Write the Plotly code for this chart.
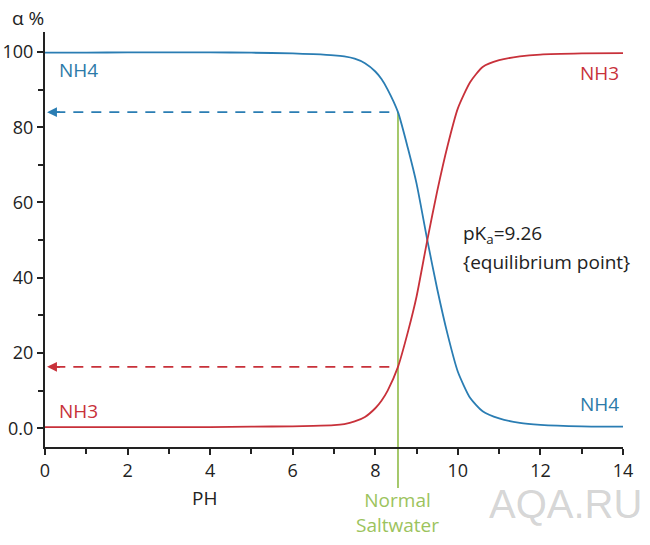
import plotly.graph_objects as go

ph = [0, 1, 2, 3, 4, 5, 6, 6.5, 7, 7.25, 7.5, 7.75, 8, 8.15, 8.3, 8.55, 8.8, 9.0, 9.26, 9.5, 9.75, 10.0, 10.3, 10.6, 11, 11.5, 12, 13, 14]
nh3 = [0.3, 0.3, 0.3, 0.3, 0.3, 0.4, 0.5, 0.6, 0.8, 1.1, 1.8, 3.0, 5.3, 7.3, 10.0, 16.3, 26, 35, 50, 63, 75, 85, 92, 96, 97.8, 98.8, 99.3, 99.6, 99.7]
nh4 = [99.8, 99.8, 99.9, 99.9, 99.9, 99.8, 99.6, 99.4, 99.1, 98.8, 98.2, 97.0, 94.8, 92.8, 90.0, 84.0, 74, 65, 50, 37, 25, 15, 8, 4.5, 2.6, 1.4, 0.9, 0.5, 0.4]

ph_ref = 8.55
nh4_ref = 84.0
nh3_ref = 16.3

BLUE = "#2a7db3"
BLUE_T = "#2c7aa8"
RED = "#c8313a"
GREEN = "#9cc35c"
FONT = "Open Sans"
DARK = "#222222"

yr = [-5, 105.3]

fig = go.Figure()
fig.add_trace(go.Scatter(x=ph, y=nh4, mode="lines", line=dict(color=BLUE, width=1.8, shape="spline", smoothing=0.6), showlegend=False, hoverinfo="skip"))
fig.add_trace(go.Scatter(x=ph, y=nh3, mode="lines", line=dict(color=RED, width=1.8, shape="spline", smoothing=0.6), showlegend=False, hoverinfo="skip"))
fig.add_trace(go.Scatter(x=[0.25, ph_ref], y=[nh4_ref, nh4_ref], mode="lines", line=dict(color=BLUE, width=1.8, dash="10px,8px"), showlegend=False, hoverinfo="skip"))
fig.add_trace(go.Scatter(x=[0.25, ph_ref], y=[nh3_ref, nh3_ref], mode="lines", line=dict(color=RED, width=1.8, dash="10px,8px"), showlegend=False, hoverinfo="skip"))

def ypaper(v):
    return (v - yr[0]) / (yr[1] - yr[0])

fig.add_shape(type="line", xref="x", yref="paper", x0=ph_ref, x1=ph_ref, y0=-0.099, y1=ypaper(nh4_ref),
              line=dict(color=GREEN, width=1.8), layer="below")

ann = []
for yv, c in [(nh4_ref, BLUE), (nh3_ref, RED)]:
    ann.append(dict(x=0.05, y=yv, ax=0.4, ay=yv, xref="x", yref="y", axref="x", ayref="y",
                    showarrow=True, arrowhead=2, arrowsize=1.1, arrowwidth=1.8, arrowcolor=c, text=""))

def lab(text, x, y, color, xanchor="left", size=19, yanchor="middle", xref="x", yref="y", family=FONT):
    ann.append(dict(text=text, x=x, y=y, xref=xref, yref=yref, showarrow=False, xanchor=xanchor, yanchor=yanchor,
                    font=dict(family=family, size=size, color=color)))

lab("NH4", 0.28, 95.3, BLUE_T)
lab("NH3", 0.28, 4.7, RED)
lab("NH3", 13.95, 94.3, RED, xanchor="right")
lab("NH4", 13.95, 6.3, BLUE_T, xanchor="right")
lab("pK<sub>a</sub>=9.26", 10.08, 51.5, DARK)
lab("{equilibrium point}", 10.08, 44.2, DARK)
lab("α %", -0.061, 1.034, DARK, xref="paper", yref="paper")
lab("PH", 3.87, -0.123, DARK, xanchor="center", yref="paper")
lab("Normal<br>Saltwater", ph_ref, -0.157, GREEN, xanchor="center", yref="paper")
lab("AQA.RU", 12.6, -0.138, "rgba(150,150,150,0.4)", xanchor="center", yref="paper", size=40, family="Liberation Sans")

axis_common = dict(showgrid=False, zeroline=False, showline=True, linecolor=DARK, linewidth=2,
                   ticks="outside", ticklen=6, tickwidth=2, tickcolor=DARK,
                   tickfont=dict(family=FONT, size=18, color=DARK), fixedrange=True, automargin=False)

fig.update_layout(
    width=650, height=545,
    margin=dict(l=45, r=27, t=32, b=98, autoexpand=False),
    paper_bgcolor="white", plot_bgcolor="white",
    annotations=ann,
    font=dict(family=FONT, size=18, color=DARK),
    xaxis=dict(range=[0, 14], tickvals=[0, 2, 4, 6, 8, 10, 12, 14],
               minor=dict(tickvals=[1, 3, 5, 7, 9, 11, 13], ticks="outside", ticklen=5, tickwidth=2, tickcolor=DARK),
               **axis_common),
    yaxis=dict(range=yr, tickvals=[0, 20, 40, 60, 80, 100], ticktext=["0.0", "20", "40", "60", "80", "100"],
               minor=dict(tickvals=[10, 30, 50, 70, 90], ticks="outside", ticklen=5, tickwidth=2, tickcolor=DARK),
               **axis_common),
)

fig.write_html("out.html")
